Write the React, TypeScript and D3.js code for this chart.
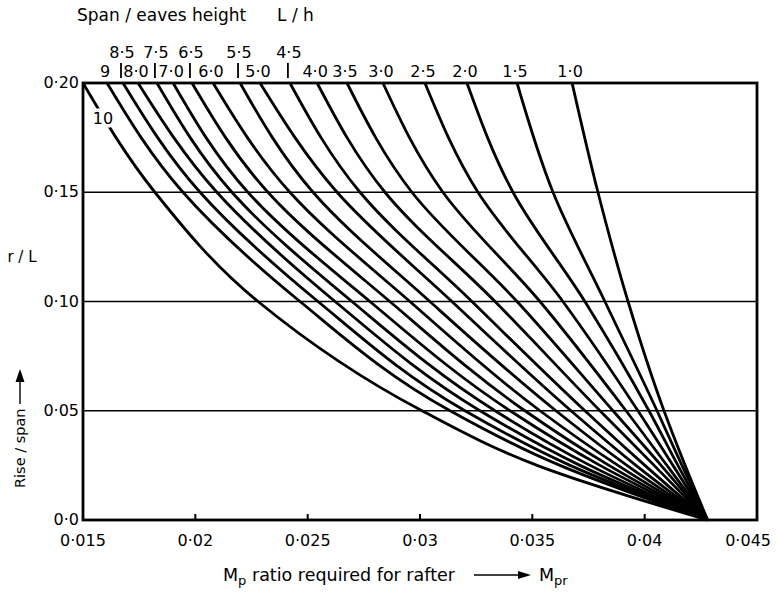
import React from 'react';
import * as d3 from 'd3';

// rise/span levels at which each curve was read
const riseLevels = [0.2, 0.15, 0.1, 0.05, 0.025, 0];

// Mp ratio at the rise levels above
const lh10 = [0.015, 0.0182, 0.02279, 0.03009, 0.03521, 0.0428];
const lh9 = [0.01607, 0.01945, 0.02466, 0.03134, 0.03623, 0.0428];
const lh85 = [0.01678, 0.02021, 0.02546, 0.032, 0.03668, 0.0428];
const lh80 = [0.01745, 0.02096, 0.02622, 0.03267, 0.03712, 0.0428];
const lh75 = [0.01829, 0.02163, 0.02697, 0.03334, 0.03757, 0.0428];
const lh70 = [0.01901, 0.02234, 0.02777, 0.03401, 0.03801, 0.0428];
const lh65 = [0.01985, 0.02323, 0.02866, 0.03467, 0.03841, 0.0428];
const lh60 = [0.02079, 0.02421, 0.02955, 0.03534, 0.03881, 0.0428];
const lh55 = [0.02199, 0.02524, 0.03044, 0.03605, 0.03921, 0.0428];
const lh50 = [0.02288, 0.02631, 0.03142, 0.03672, 0.03961, 0.0428];
const lh45 = [0.02421, 0.02733, 0.03231, 0.03734, 0.04001, 0.0428];
const lh40 = [0.02542, 0.02844, 0.03334, 0.03801, 0.04042, 0.0428];
const lh35 = [0.02675, 0.02964, 0.03432, 0.03859, 0.04073, 0.0428];
const lh30 = [0.02835, 0.03102, 0.03534, 0.03917, 0.04099, 0.0428];
const lh25 = [0.03022, 0.03258, 0.03636, 0.0397, 0.04126, 0.0428];
const lh20 = [0.03209, 0.03414, 0.03734, 0.04019, 0.04148, 0.0428];
const lh15 = [0.03432, 0.03592, 0.03823, 0.04055, 0.04166, 0.0428];
const lh10_ = [0.03677, 0.03792, 0.03926, 0.04086, 0.0418, 0.0428];

const curves = [lh10, lh9, lh85, lh80, lh75, lh70, lh65, lh60, lh55, lh50, lh45, lh40, lh35, lh30, lh25, lh20, lh15, lh10_];

// labels along the top edge, one per curve (the 10 curve is labelled inside the plot)
const topLabels = ['', '9', '8·5', '8·0', '7·5', '7·0', '6·5', '6·0', '5·5', '5·0', '4·5', '4·0', '3·5', '3·0', '2·5', '2·0', '1·5', '1·0'];
const upperRow = ['8·5', '7·5', '6·5', '5·5', '4·5'];

const xTicks = [0.015, 0.02, 0.025, 0.03, 0.035, 0.04, 0.045];
const xTickLabels = ['0·015', '0·02', '0·025', '0·03', '0·035', '0·04', '0·045'];
const yTicks = [0, 0.05, 0.1, 0.15, 0.2];
const yTickLabels = ['0·0', '0·05', '0·10', '0·15', '0·20'];
const gridLevels = [0.05, 0.1, 0.15];

const W = 778;
const H = 594;
const left = 83, right = 757, top = 83, bottom = 520;
const font = 'DejaVu Sans, sans-serif';

export default function App() {
  const x = d3.scaleLinear().domain([0.015, 0.045]).range([left, right]);
  const y = d3.scaleLinear().domain([0, 0.2]).range([bottom, top]);

  const line = d3.line<[number, number]>()
    .x(d => x(d[0]))
    .y(d => y(d[1]))
    .curve(d3.curveMonotoneY);

  return (
    <svg width={W} height={H} style={{ position: 'absolute', left: 0, top: 0, background: '#fff' }}
      fontFamily={font}>
      {/* grid */}
      {gridLevels.map(g => (
        <line key={g} x1={left} x2={right} y1={y(g)} y2={y(g)} stroke="#000" strokeWidth={1.5} />
      ))}

      {/* curves */}
      {curves.map((c, i) => (
        <path key={i} d={line(c.map((v, j) => [v, riseLevels[j]] as [number, number])) || ''}
          fill="none" stroke="#000" strokeWidth={2.8} />
      ))}

      {/* label 10, white halo cuts the curve */}
      <text x={103} y={124} fontSize={16} textAnchor="middle" stroke="#fff" strokeWidth={7}
        paintOrder="stroke" fill="#000">10</text>

      {/* frame */}
      <rect x={left} y={top} width={right - left} height={bottom - top} fill="none" stroke="#000" strokeWidth={2.8} />

      {/* x ticks */}
      {xTicks.slice(1, -1).map(t => (
        <line key={t} x1={x(t)} x2={x(t)} y1={bottom} y2={bottom - 6} stroke="#000" strokeWidth={2} />
      ))}
      {xTicks.map((t, i) => (
        <text key={t} x={i === xTicks.length - 1 ? x(t) + 14 : x(t)} y={546} fontSize={16}
          textAnchor={i === xTicks.length - 1 ? 'end' : 'middle'}>{xTickLabels[i]}</text>
      ))}

      {/* y ticks */}
      {yTicks.map((t, i) => (
        <text key={t} x={79} y={y(t) + 5} fontSize={16} textAnchor="end">{yTickLabels[i]}</text>
      ))}

      {/* top labels */}
      {curves.map((c, i) => {
        const lab = topLabels[i];
        if (!lab) return null;
        const cx = x(c[0]);
        if (upperRow.includes(lab)) {
          return (
            <g key={i}>
              <text x={cx - 1} y={58} fontSize={16} textAnchor="middle">{lab}</text>
              <line x1={cx - 2} x2={cx - 2} y1={63} y2={78} stroke="#000" strokeWidth={1.8} />
            </g>
          );
        }
        return <text key={i} x={cx - 2} y={77} fontSize={16} textAnchor="middle">{lab}</text>;
      })}

      {/* titles */}
      <text x={77} y={21} fontSize={17}>Span / eaves height</text>
      <text x={277} y={21} fontSize={17}>L / h</text>
      <text x={22} y={262} fontSize={15} textAnchor="middle">r / L</text>

      <g transform="translate(25,488) rotate(-90)">
        <text x={0} y={0} fontSize={14.5}>Rise / span</text>
        <line x1={84} x2={112} y1={-5} y2={-5} stroke="#000" strokeWidth={1.4} />
        <path d="M106,-9.5 L119,-5 L106,-0.5 Z" fill="#000" />
      </g>

      <text x={223} y={581} fontSize={17.5}>
        M<tspan fontSize={13} dy={4}>p</tspan><tspan dy={-4}> ratio required for rafter</tspan>
      </text>
      <line x1={474} x2={524} y1={575} y2={575} stroke="#000" strokeWidth={1.4} />
      <path d="M518,571 L531,575 L518,579 Z" fill="#000" />
      <text x={539} y={581} fontSize={17.5}>
        M<tspan fontSize={13} dy={4}>pr</tspan>
      </text>
    </svg>
  );
}
